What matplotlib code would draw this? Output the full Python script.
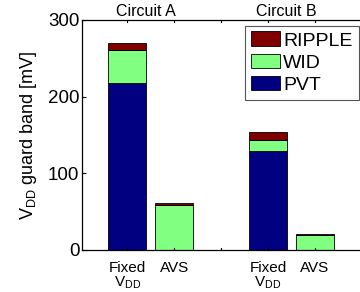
import matplotlib
matplotlib.use("Agg")
import matplotlib.pyplot as plt

# bar data (mV)
positions = [1, 2, 4, 5]
tick_labels = ["Fixed\n$\\mathregular{V_{DD}}$", "AVS", "Fixed\n$\\mathregular{V_{DD}}$", "AVS"]
pvt = [218, 0, 129, 0]
wid = [43, 59, 14.5, 19]
ripple = [9, 2, 10.5, 2]
circuits = ["Circuit A", "Circuit B"]
circuit_x = [1.4, 4.4]

plt.rcParams['font.family'] = ['Liberation Sans', 'DejaVu Sans']
plt.rcParams['mathtext.fontset'] = 'custom'
plt.rcParams['mathtext.rm'] = 'Liberation Sans'

fig = plt.figure(figsize=(3.6, 2.92), dpi=100)
ax = fig.add_axes([0.228, 0.144, 0.772, 0.788])

c_pvt = '#000080'
c_wid = '#80ff80'
c_rip = '#800000'

bottom2 = [p + w for p, w in zip(pvt, wid)]
b1 = ax.bar(positions, pvt, width=0.8, color=c_pvt, edgecolor='black', linewidth=0.6, label='PVT')
b2 = ax.bar(positions, wid, width=0.8, bottom=pvt, color=c_wid, edgecolor='black', linewidth=0.6, label='WID')
b3 = ax.bar(positions, ripple, width=0.8, bottom=bottom2, color=c_rip, edgecolor='black', linewidth=0.6, label='RIPPLE')

ax.set_xlim(0.04, 5.96)
ax.set_ylim(0, 300)
ax.set_yticks([0, 100, 200, 300])
ax.set_xticks(positions)
ax.set_xticklabels(tick_labels, fontsize=11, linespacing=0.95)
ax.tick_params(axis='x', which='both', length=0, pad=8)
ax.tick_params(axis='y', labelsize=13.5, direction='in', length=3, pad=2)
ax.spines['right'].set_visible(False)
for s in ['top', 'bottom', 'left']:
    ax.spines[s].set_linewidth(0.9)

# little tick marks along top and bottom, like the original
for x in [1, 2, 3, 4, 5]:
    ax.plot([x, x], [300, 297], color='black', lw=0.8, clip_on=False)
    ax.plot([x, x], [0, 2], color='black', lw=0.8, clip_on=False)

ax.set_ylabel("$\\mathregular{V_{DD}}$ guard band [mV]", fontsize=13, labelpad=6)

for name, x in zip(circuits, circuit_x):
    ax.text(x, 1.005, name, transform=ax.get_xaxis_transform(), ha='center', va='bottom', fontsize=11.5)

leg = ax.legend(handles=[b3, b2, b1], loc='upper right', bbox_to_anchor=(0.995, 0.975),
                fontsize=14, fancybox=False, edgecolor='#555555', framealpha=1,
                handlelength=1.5, handleheight=0.8, handletextpad=0.15,
                labelspacing=0.2, borderpad=0.3, borderaxespad=0)
leg.get_frame().set_linewidth(0.8)

plt.savefig("out.png", dpi=100)
